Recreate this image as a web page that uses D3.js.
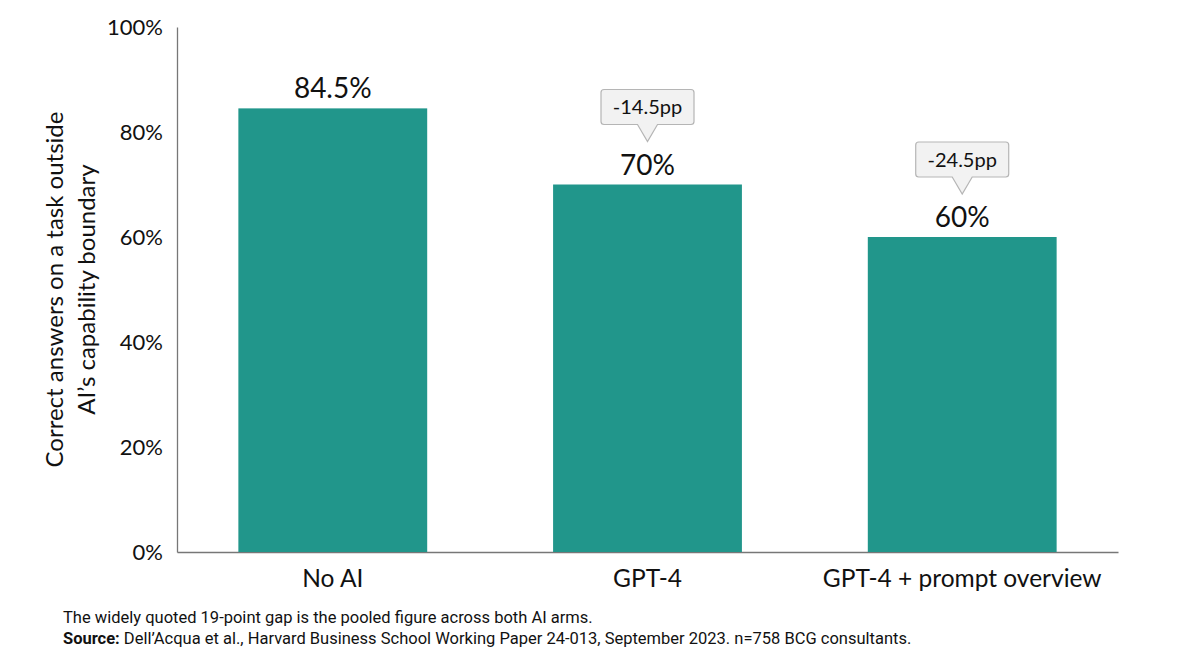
<!DOCTYPE html>
<html>
<head>
<meta charset="utf-8">
<script src="https://cdn.jsdelivr.net/npm/d3@7"></script>
<style>
  body { margin: 0; background: #fff; }
  svg text { fill: #111; }
</style>
</head>
<body>
<div id="chart"></div>
<script>
// data
const categories = ["No AI", "GPT-4", "GPT-4 + prompt overview"];
const values = [84.5, 70, 60];
const valueLabels = ["84.5%", "70%", "60%"];
const deltaLabels = [null, "-14.5pp", "-24.5pp"];
const yTicks = [0, 20, 40, 60, 80, 100];
const yTitle = ["Correct answers on a task outside", "AI\u2019s capability boundary"];
const footNote = "The widely quoted 19-point gap is the pooled figure across both AI arms.";
const sourceNote = "Dell\u2019Acqua et al., Harvard Business School Working Paper 24-013, September 2023. n=758 BCG consultants.";

const canvWidth = 1200, canvHeight = 670;
const margin = {top: 27, right: 82, bottom: 118, left: 177};
const width = canvWidth - margin.left - margin.right;
const height = canvHeight - margin.top - margin.bottom;

const svg = d3.select("#chart").append("svg")
    .attr("width", canvWidth)
    .attr("height", canvHeight)
    .style("font-family", "Lato, sans-serif");

const g = svg.append("g")
    .attr("transform", "translate(" + margin.left + "," + margin.top + ")");

const xScale = d3.scaleBand()
    .domain(categories)
    .range([0, width])
    .paddingInner(0.4)
    .paddingOuter(0.195);

const yScale = d3.scaleLinear()
    .domain([0, 100])
    .range([height, 0]);

// y axis
const yAxis = d3.axisLeft(yScale)
    .tickValues(yTicks)
    .tickSize(0)
    .tickPadding(14)
    .tickFormat(d => d + "%");
const yg = g.append("g").call(yAxis);
yg.select(".domain").attr("stroke", "#777").attr("stroke-width", 1.3);
yg.selectAll("text").style("font-size", "22px").style("font-family", "Lato, sans-serif").attr("fill", "#111");

// x axis
const xAxis = d3.axisBottom(xScale).tickSize(0).tickPadding(18);
const xg = g.append("g")
    .attr("transform", "translate(0," + height + ")")
    .call(xAxis);
xg.select(".domain").attr("stroke", "#777").attr("stroke-width", 1.3);
xg.selectAll("text").style("font-size", "24.5px").style("font-family", "Lato, sans-serif").attr("fill", "#111");

// bars
g.selectAll(".bar")
    .data(values)
    .enter().append("rect")
    .attr("class", "bar")
    .attr("x", (d, i) => xScale(categories[i]))
    .attr("y", d => yScale(d))
    .attr("width", xScale.bandwidth())
    .attr("height", d => height - yScale(d))
    .attr("fill", "#21968b");

// value labels
g.selectAll(".val")
    .data(values)
    .enter().append("text")
    .attr("class", "val")
    .attr("x", (d, i) => xScale(categories[i]) + xScale.bandwidth() / 2)
    .attr("y", d => yScale(d) - 10)
    .attr("text-anchor", "middle")
    .style("font-size", "28px")
    .text((d, i) => valueLabels[i]);

// callouts with the drop versus No AI
const boxW = 93, boxH = 35, tipH = 17, tipW = 10;
values.forEach((v, i) => {
  if (!deltaLabels[i]) return;
  const cx = xScale(categories[i]) + xScale.bandwidth() / 2;
  const top = yScale(v) - 95;
  const bottom = top + boxH;
  const l = cx - boxW / 2, r = cx + boxW / 2, rr = 3;
  const path = [
    "M", l + rr, top,
    "L", r - rr, top, "Q", r, top, r, top + rr,
    "L", r, bottom - rr, "Q", r, bottom, r - rr, bottom,
    "L", cx + tipW, bottom, "L", cx, bottom + tipH, "L", cx - tipW, bottom,
    "L", l + rr, bottom, "Q", l, bottom, l, bottom - rr,
    "L", l, top + rr, "Q", l, top, l + rr, top, "Z"
  ].join(" ");
  g.append("path")
      .attr("d", path)
      .attr("fill", "#f2f2f2")
      .attr("stroke", "#b5b5b5")
      .attr("stroke-width", 1.2);
  g.append("text")
      .attr("x", cx)
      .attr("y", top + boxH / 2)
      .attr("dy", "0.35em")
      .attr("text-anchor", "middle")
      .style("font-size", "20px")
      .text(deltaLabels[i]);
});

// y axis title
const yt = svg.append("text")
    .attr("transform", "translate(55," + (margin.top + height / 2) + ") rotate(-90)")
    .attr("text-anchor", "middle")
    .style("font-size", "24px");
yt.selectAll("tspan")
    .data(yTitle)
    .enter().append("tspan")
    .attr("x", 0)
    .attr("dy", (d, i) => i === 0 ? "0.35em" : "1.3em")
    .text(d => d);

// footer
const foot = svg.append("g")
    .style("font-family", "Roboto, sans-serif")
    .style("font-size", "16.5px");
foot.append("text")
    .attr("x", 63)
    .attr("y", 623)
    .text(footNote);
const src = foot.append("text")
    .attr("x", 63)
    .attr("y", 644);
src.append("tspan").style("font-weight", "bold").text("Source:");
src.append("tspan").text(" " + sourceNote);
</script>
</body>
</html>
